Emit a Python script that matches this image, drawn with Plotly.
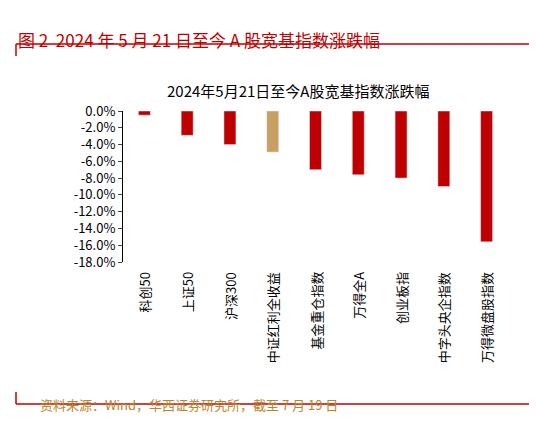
import plotly.graph_objects as go

categories = ["科创50", "上证50", "沪深300", "中证红利全收益", "基金重仓指数", "万得全A", "创业板指", "中字头央企指数", "万得微盘股指数"]
values = [-0.5, -2.9, -4.0, -4.9, -7.0, -7.6, -8.0, -9.0, -15.6]
colors = ["#C00000"] * 3 + ["#C9A063"] + ["#C00000"] * 5
ticks = [0, -2, -4, -6, -8, -10, -12, -14, -16, -18]
tick_labels = [f"{t:.1f}%" for t in ticks]

W, H = 537, 421
L, R, T, B = 115, 37, 103, 167
pw, ph = W - L - R, H - T - B
def px(x): return (x - L) / pw
def py(y): return (H - B - y) / ph

fig = go.Figure(go.Bar(x=categories, y=values, marker_color=colors, width=0.28))
font = "Noto Sans CJK SC"
fig.update_layout(
    width=W, height=H, margin=dict(l=L, r=R, t=T, b=B, autoexpand=False),
    paper_bgcolor="white", plot_bgcolor="white", showlegend=False,
    font=dict(family=font, size=12, color="black"),
    xaxis=dict(showline=False, ticks="", showticklabels=False, automargin=False),
    yaxis=dict(range=[-18, 0], tickvals=ticks, ticktext=tick_labels, showgrid=False,
               showline=True, linecolor="black", ticks="outside", ticklen=4, zeroline=False,
               tickfont=dict(size=13), automargin=False),
)
for i, c in enumerate(categories):
    fig.add_annotation(x=i, y=py(262), xref="x", yref="paper", text=c, textangle=-90,
                       showarrow=False, xanchor="center", yanchor="top", font=dict(size=13))
fig.add_annotation(x=px(290), y=py(70), xref="paper", yref="paper", showarrow=False,
                   text="2024年5月21日至今A股宽基指数涨跌幅", font=dict(size=15))
fig.add_annotation(x=px(8), y=py(17), xref="paper", yref="paper", showarrow=False, xanchor="left",
                   text="图 2  2024 年 5 月 21 日至今 A 股宽基指数涨跌幅",
                   font=dict(size=17, color="#C00000"))
fig.add_annotation(x=px(30), y=py(408), xref="paper", yref="paper", showarrow=False, xanchor="left",
                   text="资料来源：Wind，华西证券研究所，截至 7 月 19 日",
                   font=dict(size=13, color="#B8862F"))
red = "#C00000"
fig.add_shape(type="line", xref="paper", yref="paper", x0=px(8), x1=px(530), y0=py(36), y1=py(36),
              line=dict(color=red, width=1.5))
for x in (8, 530):
    fig.add_shape(type="line", xref="paper", yref="paper", x0=px(x), x1=px(x), y0=py(36), y1=py(48),
                  line=dict(color=red, width=1.5))
    fig.add_shape(type="line", xref="paper", yref="paper", x0=px(x), x1=px(x), y0=py(384), y1=py(396),
                  line=dict(color=red, width=1.5))
fig.add_shape(type="line", xref="paper", yref="paper", x0=px(8), x1=px(530), y0=py(396), y1=py(396),
              line=dict(color=red, width=1.5))
fig.write_html("out.html")
